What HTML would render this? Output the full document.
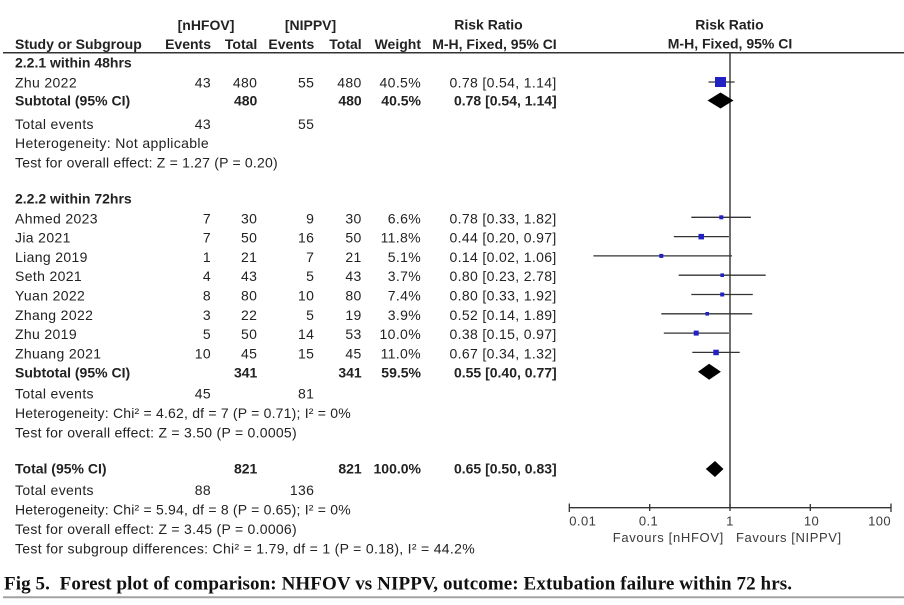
<!DOCTYPE html>
<html><head><meta charset="utf-8"><style>
html,body{margin:0;padding:0;background:#fff;}
svg{display:block;}
.r{font-family:"Liberation Sans",Arial,sans-serif;font-size:14px;letter-spacing:0.35px;fill:#222;}
.b{font-family:"Liberation Sans",Arial,sans-serif;font-size:14px;font-weight:bold;fill:#222;}
.e{text-anchor:end;}
.m{text-anchor:middle;}
.ax{font-family:"Liberation Sans",Arial,sans-serif;font-size:13px;letter-spacing:0.4px;fill:#3a3a3a;}
.cap{font-family:"Liberation Serif","Times New Roman",serif;font-size:19px;font-weight:bold;fill:#111;}
</style></head><body>
<svg width="904" height="605" viewBox="0 0 904 605" xmlns="http://www.w3.org/2000/svg">
<rect width="904" height="605" fill="#fff"/>
<!-- header -->
<text class="b m" x="206" y="30">[nHFOV]</text>
<text class="b m" x="310.5" y="30">[NIPPV]</text>
<text class="b m" x="488.5" y="29.5">Risk Ratio</text>
<text class="b m" x="729.5" y="29.5">Risk Ratio</text>
<text class="b" x="15" y="49">Study or Subgroup</text>
<text class="b e" x="211" y="49">Events</text>
<text class="b e" x="257.3" y="49">Total</text>
<text class="b e" x="314.3" y="49">Events</text>
<text class="b e" x="361.7" y="49">Total</text>
<text class="b e" x="421" y="49">Weight</text>
<text class="b e" x="556.7" y="49">M-H, Fixed, 95% CI</text>
<text class="b m" x="730" y="48.5">M-H, Fixed, 95% CI</text>
<line x1="3" y1="52.7" x2="904" y2="52.7" stroke="#333" stroke-width="1.5"/>

<!-- 2.2.1 -->
<text class="b" x="15" y="67.5">2.2.1 within 48hrs</text>
<text class="r" x="15" y="87.5">Zhu 2022</text>
<text class="r e" x="211" y="87.5">43</text>
<text class="r e" x="257.3" y="87.5">480</text>
<text class="r e" x="314.3" y="87.5">55</text>
<text class="r e" x="361.7" y="87.5">480</text>
<text class="r e" x="421" y="87.5">40.5%</text>
<text class="r e" x="556.7" y="87.5">0.78 [0.54, 1.14]</text>
<text class="b" x="15" y="105.5">Subtotal (95% CI)</text>
<text class="b e" x="257.3" y="105.5">480</text>
<text class="b e" x="361.7" y="105.5">480</text>
<text class="b e" x="421" y="105.5">40.5%</text>
<text class="b e" x="556.7" y="105.5">0.78 [0.54, 1.14]</text>
<text class="r" x="15" y="129">Total events</text>
<text class="r e" x="211" y="129">43</text>
<text class="r e" x="314.3" y="129">55</text>
<text class="r" x="15" y="148" textLength="194" lengthAdjust="spacing">Heterogeneity: Not applicable</text>
<text class="r" x="15" y="167.5" textLength="263" lengthAdjust="spacing">Test for overall effect: Z = 1.27 (P = 0.20)</text>

<!-- 2.2.2 -->
<text class="b" x="15" y="203.5">2.2.2 within 72hrs</text>
<g>
<text class="r" x="15" y="223.3">Ahmed 2023</text>
<text class="r e" x="211" y="223.3">7</text><text class="r e" x="257.3" y="223.3">30</text><text class="r e" x="314.3" y="223.3">9</text><text class="r e" x="361.7" y="223.3">30</text><text class="r e" x="421" y="223.3">6.6%</text><text class="r e" x="556.7" y="223.3">0.78 [0.33, 1.82]</text>
<text class="r" x="15" y="242.6">Jia 2021</text>
<text class="r e" x="211" y="242.6">7</text><text class="r e" x="257.3" y="242.6">50</text><text class="r e" x="314.3" y="242.6">16</text><text class="r e" x="361.7" y="242.6">50</text><text class="r e" x="421" y="242.6">11.8%</text><text class="r e" x="556.7" y="242.6">0.44 [0.20, 0.97]</text>
<text class="r" x="15" y="261.9">Liang 2019</text>
<text class="r e" x="211" y="261.9">1</text><text class="r e" x="257.3" y="261.9">21</text><text class="r e" x="314.3" y="261.9">7</text><text class="r e" x="361.7" y="261.9">21</text><text class="r e" x="421" y="261.9">5.1%</text><text class="r e" x="556.7" y="261.9">0.14 [0.02, 1.06]</text>
<text class="r" x="15" y="281.2">Seth 2021</text>
<text class="r e" x="211" y="281.2">4</text><text class="r e" x="257.3" y="281.2">43</text><text class="r e" x="314.3" y="281.2">5</text><text class="r e" x="361.7" y="281.2">43</text><text class="r e" x="421" y="281.2">3.7%</text><text class="r e" x="556.7" y="281.2">0.80 [0.23, 2.78]</text>
<text class="r" x="15" y="300.5">Yuan 2022</text>
<text class="r e" x="211" y="300.5">8</text><text class="r e" x="257.3" y="300.5">80</text><text class="r e" x="314.3" y="300.5">10</text><text class="r e" x="361.7" y="300.5">80</text><text class="r e" x="421" y="300.5">7.4%</text><text class="r e" x="556.7" y="300.5">0.80 [0.33, 1.92]</text>
<text class="r" x="15" y="319.8">Zhang 2022</text>
<text class="r e" x="211" y="319.8">3</text><text class="r e" x="257.3" y="319.8">22</text><text class="r e" x="314.3" y="319.8">5</text><text class="r e" x="361.7" y="319.8">19</text><text class="r e" x="421" y="319.8">3.9%</text><text class="r e" x="556.7" y="319.8">0.52 [0.14, 1.89]</text>
<text class="r" x="15" y="339.1">Zhu 2019</text>
<text class="r e" x="211" y="339.1">5</text><text class="r e" x="257.3" y="339.1">50</text><text class="r e" x="314.3" y="339.1">14</text><text class="r e" x="361.7" y="339.1">53</text><text class="r e" x="421" y="339.1">10.0%</text><text class="r e" x="556.7" y="339.1">0.38 [0.15, 0.97]</text>
<text class="r" x="15" y="358.4">Zhuang 2021</text>
<text class="r e" x="211" y="358.4">10</text><text class="r e" x="257.3" y="358.4">45</text><text class="r e" x="314.3" y="358.4">15</text><text class="r e" x="361.7" y="358.4">45</text><text class="r e" x="421" y="358.4">11.0%</text><text class="r e" x="556.7" y="358.4">0.67 [0.34, 1.32]</text>
</g>
<text class="b" x="15" y="377.5">Subtotal (95% CI)</text>
<text class="b e" x="257.3" y="377.5">341</text>
<text class="b e" x="361.7" y="377.5">341</text>
<text class="b e" x="421" y="377.5">59.5%</text>
<text class="b e" x="556.7" y="377.5">0.55 [0.40, 0.77]</text>
<text class="r" x="15" y="398.5">Total events</text>
<text class="r e" x="211" y="398.5">45</text>
<text class="r e" x="314.3" y="398.5">81</text>
<text class="r" x="15" y="418" textLength="336" lengthAdjust="spacing">Heterogeneity: Chi² = 4.62, df = 7 (P = 0.71); I² = 0%</text>
<text class="r" x="15" y="437.5" textLength="282" lengthAdjust="spacing">Test for overall effect: Z = 3.50 (P = 0.0005)</text>

<!-- Total -->
<text class="b" x="15" y="473.5">Total (95% CI)</text>
<text class="b e" x="257.3" y="473.5">821</text>
<text class="b e" x="361.7" y="473.5">821</text>
<text class="b e" x="421" y="473.5">100.0%</text>
<text class="b e" x="556.7" y="473.5">0.65 [0.50, 0.83]</text>
<text class="r" x="15" y="495">Total events</text>
<text class="r e" x="211" y="495">88</text>
<text class="r e" x="314.3" y="495">136</text>
<text class="r" x="15" y="514.5" textLength="336" lengthAdjust="spacing">Heterogeneity: Chi² = 5.94, df = 8 (P = 0.65); I² = 0%</text>
<text class="r" x="15" y="534" textLength="282" lengthAdjust="spacing">Test for overall effect: Z = 3.45 (P = 0.0006)</text>
<text class="r" x="15" y="553.5" textLength="460" lengthAdjust="spacing">Test for subgroup differences: Chi² = 1.79, df = 1 (P = 0.18), I² = 44.2%</text>

<!-- plot -->
<line x1="730" y1="52.7" x2="730" y2="508" stroke="#333" stroke-width="1.4"/>
<g stroke="#333" stroke-width="1.3">
<line x1="708.5" y1="82" x2="734.6" y2="82"/>
<line x1="691.3" y1="217.3" x2="750.9" y2="217.3"/>
<line x1="673.8" y1="236.6" x2="728.9" y2="236.6"/>
<line x1="593.4" y1="255.9" x2="732.0" y2="255.9"/>
<line x1="678.7" y1="275.2" x2="765.7" y2="275.2"/>
<line x1="691.3" y1="294.5" x2="752.8" y2="294.5"/>
<line x1="661.3" y1="313.8" x2="752.2" y2="313.8"/>
<line x1="663.8" y1="333.1" x2="728.9" y2="333.1"/>
<line x1="692.3" y1="352.4" x2="739.7" y2="352.4"/>
</g>
<g fill="#2121c4">
<rect x="715" y="77" width="11" height="10"/>
<rect x="719.3" y="215.3" width="4" height="4"/>
<rect x="698.5" y="233.9" width="5.5" height="5.5"/>
<rect x="659.3" y="253.9" width="4" height="4"/>
<rect x="720.4" y="273.4" width="3.6" height="3.6"/>
<rect x="720.2" y="292.5" width="4" height="4"/>
<rect x="705.4" y="312" width="3.6" height="3.6"/>
<rect x="693.7" y="330.6" width="5" height="5"/>
<rect x="713.3" y="349.7" width="5.5" height="5.5"/>
</g>
<g fill="#000">
<polygon points="707.5,100.5 720.5,92.5 733.5,100.5 720.5,108.5"/>
<polygon points="698,371.7 709.1,363.7 720.9,371.7 709.1,379.7"/>
<polygon points="705.8,469 715,461 723.5,469 715,477"/>
</g>
<!-- axis -->
<g stroke="#333" stroke-width="1.3">
<line x1="569.3" y1="507.7" x2="891" y2="507.7"/>
<line x1="569.3" y1="503.5" x2="569.3" y2="512"/>
<line x1="649.7" y1="504" x2="649.7" y2="511"/>
<line x1="730" y1="504" x2="730" y2="511"/>
<line x1="810.3" y1="504" x2="810.3" y2="511"/>
<line x1="891" y1="503.5" x2="891" y2="512"/>
</g>
<text class="ax" x="569.3" y="525.7">0.01</text>
<text class="ax m" x="648.5" y="525.7">0.1</text>
<text class="ax m" x="730" y="525.7">1</text>
<text class="ax m" x="811.5" y="525.7">10</text>
<text class="ax e" x="891" y="525.7">100</text>
<text class="ax" x="612.7" y="542" textLength="111" lengthAdjust="spacing">Favours [nHFOV]</text>
<text class="ax" x="736" y="542" textLength="105.5" lengthAdjust="spacing">Favours [NIPPV]</text>

<!-- caption -->
<text class="cap" x="4" y="589.3" textLength="788" lengthAdjust="spacing" xml:space="preserve">Fig 5.  Forest plot of comparison: NHFOV vs NIPPV, outcome: Extubation failure within 72 hrs.</text>
<line x1="3" y1="597.3" x2="904" y2="597.3" stroke="#a3a3a3" stroke-width="2"/>
</svg>
</body></html>
